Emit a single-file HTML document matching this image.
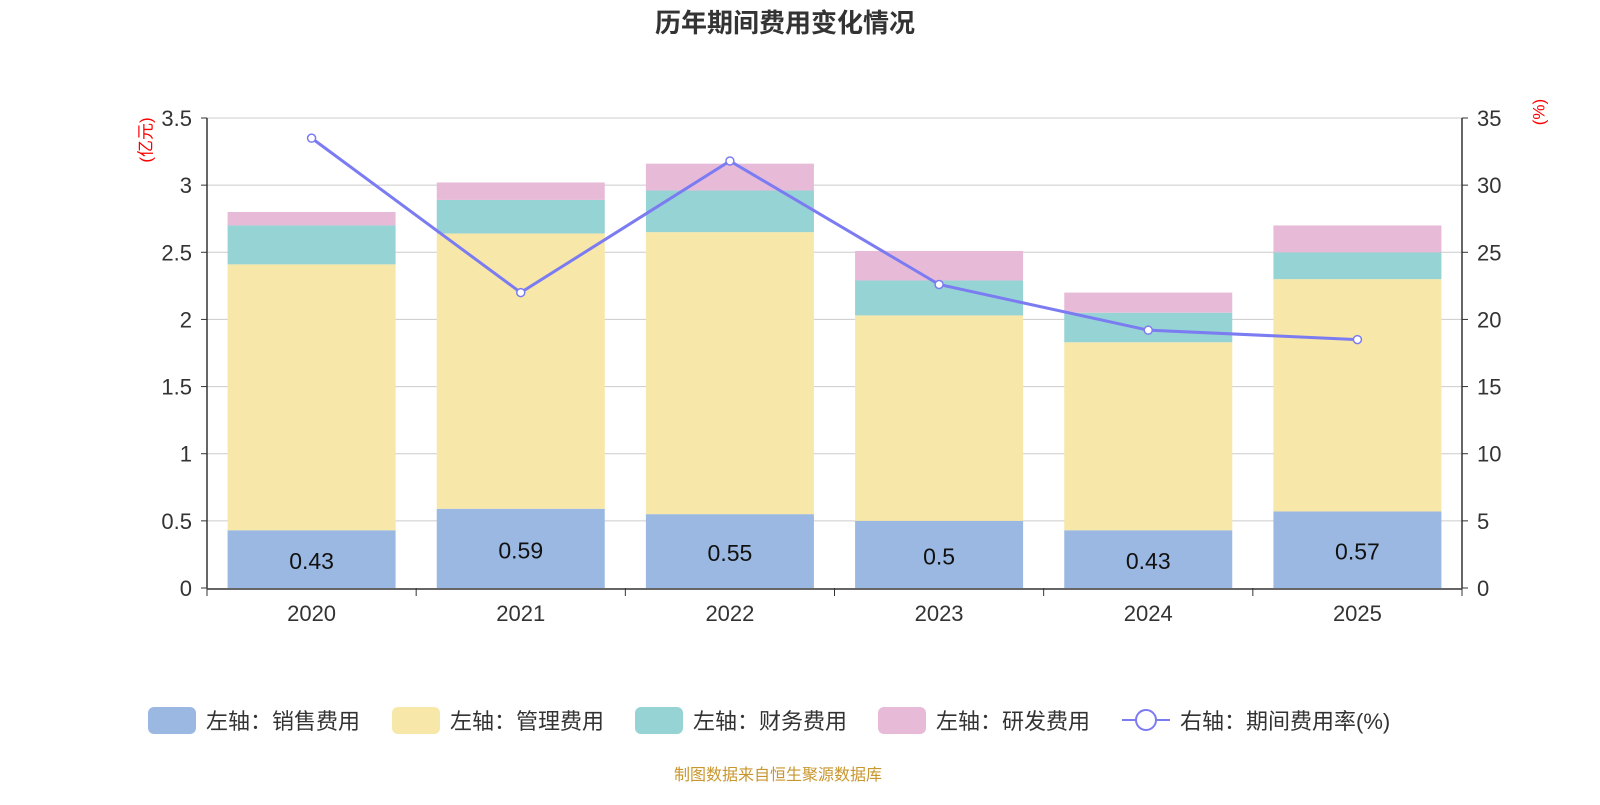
<!DOCTYPE html>
<html><head><meta charset="utf-8"><style>
body{margin:0;background:#fff;font-family:"Liberation Sans","Noto Sans CJK SC",sans-serif}
</style></head><body>
<svg id="c" width="1600" height="800" xmlns="http://www.w3.org/2000/svg"></svg>
<script>
const categories=["2020","2021","2022","2023","2024","2025"];
const sales=[0.43,0.59,0.55,0.5,0.43,0.57];
const mgmt=[1.98,2.05,2.10,1.53,1.40,1.73];
const fin=[0.29,0.25,0.31,0.26,0.22,0.20];
const rd=[0.10,0.13,0.20,0.22,0.15,0.20];
const rate=[33.5,22.0,31.8,22.6,19.2,18.5];
const leftTicks=["0","0.5","1","1.5","2","2.5","3","3.5"];
const rightTicks=["0","5","10","15","20","25","30","35"];
const NS="http://www.w3.org/2000/svg",svg=document.getElementById('c');
const X0=207,X1=1462,Y0=588,Y1=118;
const yL=v=>Y0-(Y0-Y1)*v/3.5, yR=v=>Y0-(Y0-Y1)*v/35;
const bw=(X1-X0)/categories.length, xc=i=>X0+bw*(i+0.5);
function el(t,a,txt){const e=document.createElementNS(NS,t);for(const k in a)e.setAttribute(k,a[k]);if(txt!=null)e.textContent=txt;svg.appendChild(e);return e;}
let t=el('text',{x:785,y:32,'text-anchor':'middle','font-size':26,'font-weight':'bold',fill:'#333'},'历年期间费用变化情况');

leftTicks.forEach((s,i)=>{const v=+s,y=yL(v);
 if(i>0){const g=el('line',{x1:X0,x2:X1,y1:y,y2:y,stroke:'#ccc','stroke-width':1});}
 const a=el('text',{x:192,y:y+8,'text-anchor':'end','font-size':22,fill:'#333'},s);
 el('line',{x1:X0-6,x2:X0,y1:y,y2:y,stroke:'#333'});
});
rightTicks.forEach(s=>{const y=yR(+s);
 const a=el('text',{x:1477,y:y+8,'font-size':22,fill:'#333'},s);
 el('line',{x1:X1,x2:X1+6,y1:y,y2:y,stroke:'#333'});
});
el('line',{x1:X0,x2:X0,y1:Y1,y2:Y0,stroke:'#333','stroke-width':1.5});
el('line',{x1:X1,x2:X1,y1:Y1,y2:Y0,stroke:'#333','stroke-width':1.5});
el('line',{x1:X0,x2:X1,y1:Y0+1,y2:Y0+1,stroke:'#333','stroke-width':1.5});
let u=el('text',{x:147,y:140,'font-size':17,fill:'red','text-anchor':'middle','dominant-baseline':'middle',transform:'rotate(-90 147 140)'},'(亿元)');
u=el('text',{x:1540,y:112,'font-size':17,fill:'red','text-anchor':'middle','dominant-baseline':'middle',transform:'rotate(-90 1540 112)'},'(%)');
for(let i=0;i<=categories.length;i++){const x=X0+bw*i;el('line',{x1:x,x2:x,y1:Y0,y2:Y0+8,stroke:'#333'});}
const series=[[sales,'#9bb8e2','sales'],[mgmt,'#f7e7a8','mgmt'],[fin,'#96d3d4','finance'],[rd,'#e7bbd8','rnd']];
categories.forEach((c,i)=>{
 let base=0;
 series.forEach(([arr,col,n])=>{const v=arr[i];
  const r=el('rect',{x:xc(i)-84,y:yL(base+v),width:168,height:yL(base)-yL(base+v),fill:col});
  
  base+=v;});
 const l=el('text',{x:xc(i),y:(yL(0)+yL(sales[i]))/2+10,'text-anchor':'middle','font-size':23,fill:'#111'},String(sales[i]));
 
 const xl=el('text',{x:xc(i),y:621,'text-anchor':'middle','font-size':22,fill:'#333'},c);
 
});
const pl=el('polyline',{points:rate.map((v,i)=>xc(i)+','+yR(v)).join(' '),fill:'none',stroke:'#7b7bf2','stroke-width':3});

rate.forEach((v,i)=>{const p=el('circle',{cx:xc(i),cy:yR(v),r:4,fill:'#fff',stroke:'#7b7bf2','stroke-width':1.5});});
const leg=[['左轴：销售费用','#9bb8e2',148],['左轴：管理费用','#f7e7a8',392],['左轴：财务费用','#96d3d4',635],['左轴：研发费用','#e7bbd8',878]];
leg.forEach(([s,c,x])=>{const r=el('rect',{x:x,y:707,width:48,height:27,rx:6,fill:c});
 const tx=el('text',{x:x+58,y:729,'font-size':22,fill:'#333'},s);});
el('line',{x1:1122,x2:1170,y1:720,y2:720,stroke:'#7b7bf2','stroke-width':2});
el('circle',{cx:1146,cy:720,r:10,fill:'#fff',stroke:'#7b7bf2','stroke-width':2});
let lt=el('text',{x:1180,y:729,'font-size':22,fill:'#333'},'右轴：期间费用率(%)');
let src=el('text',{x:778,y:780,'text-anchor':'middle','font-size':16,fill:'#c8962e'},'制图数据来自恒生聚源数据库');
</script></body></html>
